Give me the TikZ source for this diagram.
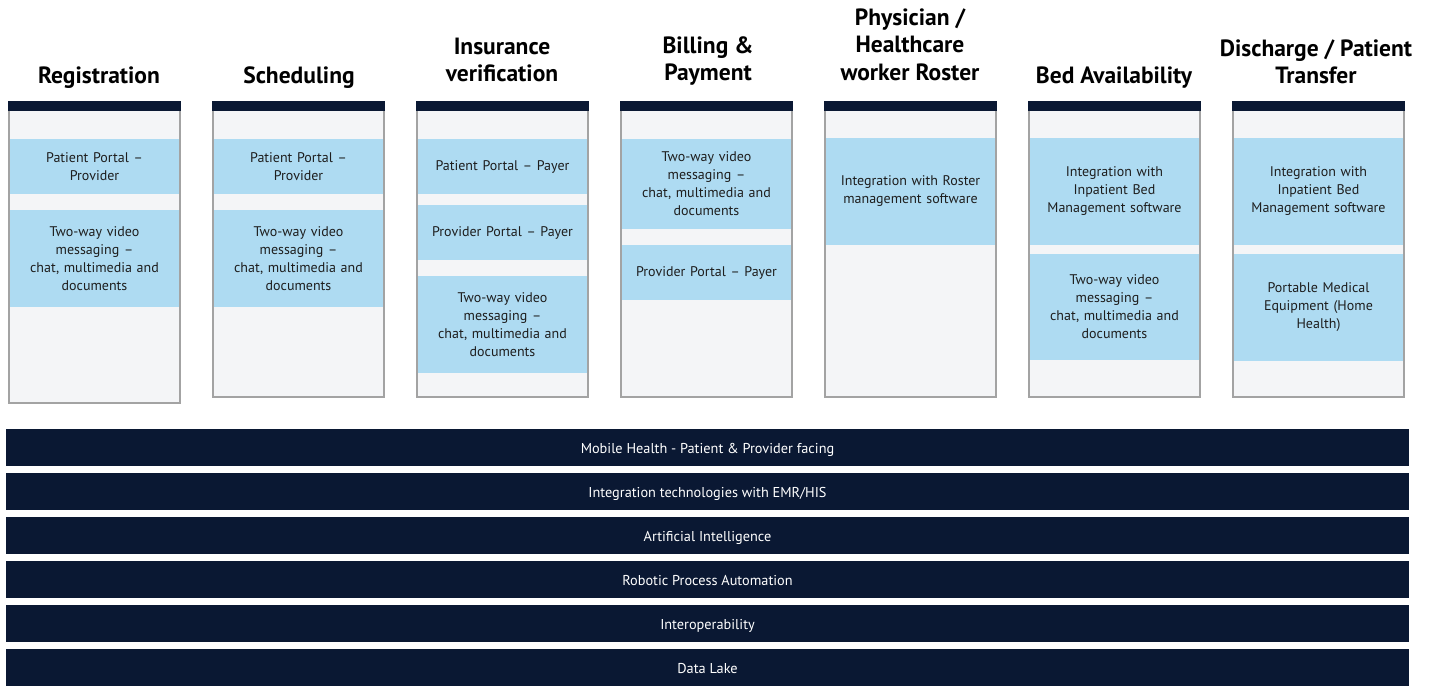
\documentclass[tikz,border=0pt]{standalone}
\usepackage{fontspec}
\setmainfont{PT Sans}
\definecolor{navy}{HTML}{0A1833}
\definecolor{paleblue}{HTML}{AEDBF2}
\definecolor{panelgray}{HTML}{F4F5F7}
\definecolor{rim}{HTML}{A3A3A3}
\definecolor{ink}{HTML}{1E1E1E}
\begin{document}
\begin{tikzpicture}[x=1pt,y=-1pt,
  % the base anchor of a multi-line heading sits on its last line
  title/.style={anchor=base, align=center, inner sep=0pt, text=black,
    font=\bfseries\fontsize{23.5}{27.5}\selectfont},
  panel/.style={draw=rim, line width=1.3pt, fill=panelgray, anchor=north west,
    minimum width=171pt, inner sep=0pt, outer sep=0pt},
  topband/.style={fill=navy, anchor=north west, minimum width=172.3pt,
    minimum height=10pt, inner sep=0pt, outer sep=0pt},
  item/.style={fill=paleblue, anchor=north west, minimum width=169pt,
    text width=160pt, align=center, inner sep=0pt, outer sep=0pt, text=ink,
    font=\fontsize{14}{18}\selectfont},
  layer/.style={fill=navy, anchor=north west, minimum width=1403pt,
    minimum height=37pt, inner sep=0pt, outer sep=0pt, text=white,
    text height=12.5pt, text depth=0pt,
    font=\fontsize{14.3}{18}\selectfont}]
\useasboundingbox (0,0) rectangle (1430,687);

% column headings
\node[title] (t1) at (99,84) {Registration};
\node[title] (t2) at (299,84) {Scheduling};
\node[title] (t3) at (502,82) {Insurance\\verification};
\node[title] (t4) at (708,81) {Billing \&\\Payment};
\node[title] (t5) at (910,80.5) {Physician /\\Healthcare\\worker Roster};
\node[title] (t6) at (1114,84) {Bed Availability};
\node[title] (t7) at (1316,84) {Discharge / Patient\\Transfer};

% column panels
\node[panel, minimum height=301pt] (p1) at (9,102) {};
\node[panel, minimum height=295pt] (p2) at (213,102) {};
\node[panel, minimum height=295pt] (p3) at (417,102) {};
\node[panel, minimum height=295pt] (p4) at (621,102) {};
\node[panel, minimum height=295pt] (p5) at (825,102) {};
\node[panel, minimum height=295pt] (p6) at (1029,102) {};
\node[panel, minimum height=295pt] (p7) at (1233,102) {};

% dark bands on top of the panels
\node[topband] (c1) at (8.35,101.35) {};
\node[topband] (c2) at (212.35,101.35) {};
\node[topband] (c3) at (416.35,101.35) {};
\node[topband] (c4) at (620.35,101.35) {};
\node[topband] (c5) at (824.35,101.35) {};
\node[topband] (c6) at (1028.35,101.35) {};
\node[topband] (c7) at (1232.35,101.35) {};

% Registration
\node[item, minimum height=55pt] (r1) at (10,139) {Patient Portal --\\Provider};
\node[item, minimum height=97pt] (r2) at (10,210) {Two-way video\\messaging --\\chat, multimedia and\\documents};
% Scheduling
\node[item, minimum height=55pt] (s1) at (214,139) {Patient Portal --\\Provider};
\node[item, minimum height=97pt] (s2) at (214,210) {Two-way video\\messaging --\\chat, multimedia and\\documents};
% Insurance verification
\node[item, minimum height=55pt] (i1) at (418,139) {Patient Portal -- Payer};
\node[item, minimum height=55pt] (i2) at (418,205) {Provider Portal -- Payer};
\node[item, minimum height=97pt] (i3) at (418,276) {Two-way video\\messaging --\\chat, multimedia and\\documents};
% Billing & Payment
\node[item, minimum height=90pt] (b1) at (622,139) {Two-way video\\messaging --\\chat, multimedia and\\documents};
\node[item, minimum height=55pt] (b2) at (622,245) {Provider Portal -- Payer};
% Physician roster
\node[item, minimum height=107pt] (h1) at (826,138) {Integration with Roster\\management software};
% Bed availability
\node[item, minimum height=107pt] (d1) at (1030,138) {Integration with\\Inpatient Bed\\Management software};
\node[item, minimum height=106pt] (d2) at (1030,254) {Two-way video\\messaging --\\chat, multimedia and\\documents};
% Discharge / transfer
\node[item, minimum height=107pt] (x1) at (1234,138) {Integration with\\Inpatient Bed\\Management software};
\node[item, minimum height=107pt] (x2) at (1234,254) {Portable Medical\\Equipment (Home\\Health)};

% technology layers
\node[layer] (l1) at (6,429) {Mobile Health - Patient \& Provider facing};
\node[layer] (l2) at (6,473) {Integration technologies with EMR/HIS};
\node[layer] (l3) at (6,517) {Artificial Intelligence};
\node[layer] (l4) at (6,561) {Robotic Process Automation};
\node[layer] (l5) at (6,605) {Interoperability};
\node[layer] (l6) at (6,649) {Data Lake};
\end{tikzpicture}
\end{document}
